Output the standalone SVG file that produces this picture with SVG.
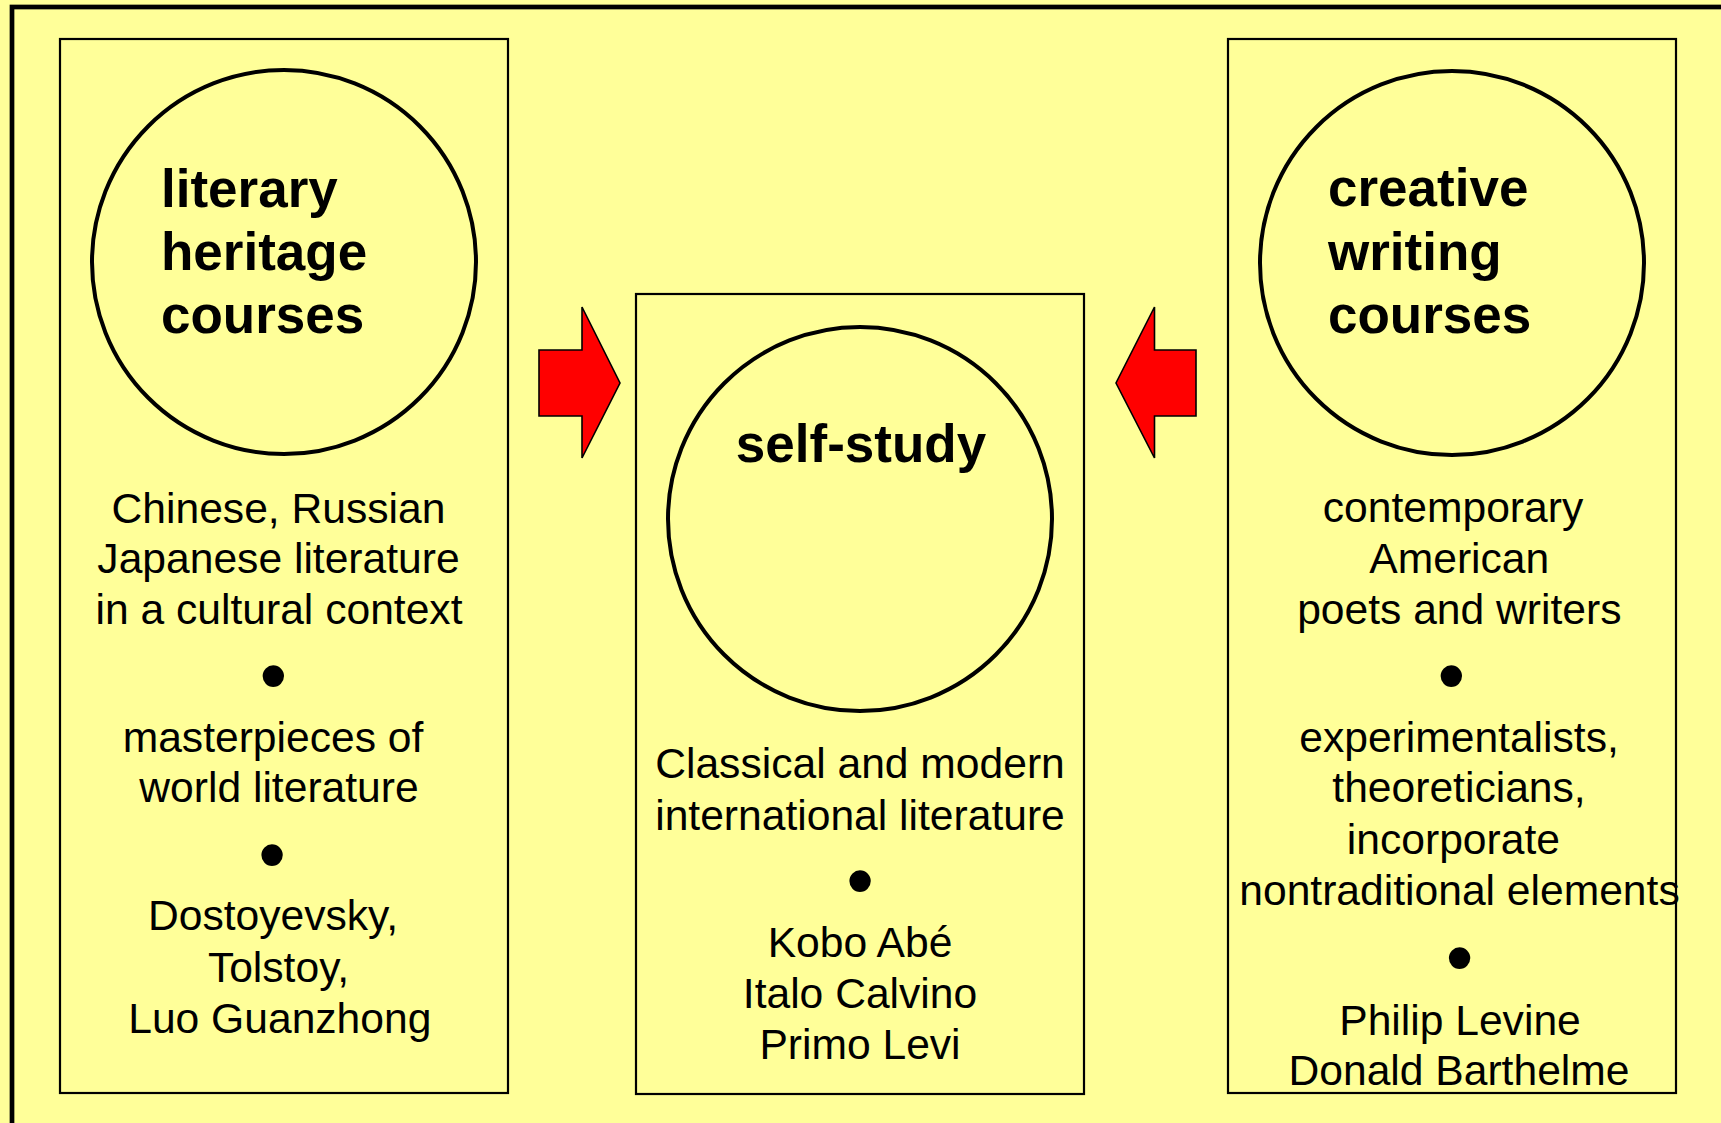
<svg xmlns="http://www.w3.org/2000/svg" width="1721" height="1123" viewBox="0 0 1721 1123">
<defs>
<style>
.bg{fill:#FFFF99}
.frame{fill:none;stroke:#000;stroke-width:4.7}
.box{fill:#FFFF99;stroke:#000;stroke-width:2.2}
.circ{fill:#FFFF99;stroke:#000;stroke-width:4}
.arrow{fill:#FF0000;stroke:#000;stroke-width:1.6;stroke-linejoin:miter}
.title{font-family:"Liberation Sans",Arial,sans-serif;font-weight:bold;font-size:53px;fill:#000}
.body{font-family:"Liberation Sans",Arial,sans-serif;font-size:42.6px;fill:#000;text-anchor:middle}
.bul{font-family:"Liberation Sans",Arial,sans-serif;font-size:79px;fill:#000;text-anchor:middle}
</style>
</defs>
<rect class="bg" x="0" y="0" width="1721" height="1123"/>
<rect class="frame" x="12" y="7" width="1800" height="1300"/>

<g id="connectors">
<polygon class="arrow" points="539,350 582,350 582,307 620,383 582,458 582,416 539,416"/>
<polygon class="arrow" points="1196,350 1154.5,350 1154.5,307 1116,383 1154.5,458 1154.5,416 1196,416"/>
</g>

<g id="literary-heritage">
<rect class="box" x="60" y="39" width="448" height="1054"/>
<circle class="circ" cx="284" cy="262" r="192"/>
<text class="title" x="161" y="207">literary</text>
<text class="title" x="161" y="270">heritage</text>
<text class="title" x="161" y="333">courses</text>
<text class="body" x="278.5" y="523">Chinese, Russian</text>
<text class="body" x="278.5" y="573">Japanese literature</text>
<text class="body" x="279" y="624">in a cultural context</text>
<text class="bul" x="273.3" y="703">•</text>
<text class="body" x="273" y="752">masterpieces of</text>
<text class="body" x="279" y="802">world literature</text>
<text class="bul" x="272" y="882">•</text>
<text class="body" x="273" y="930">Dostoyevsky,</text>
<text class="body" x="278.5" y="982">Tolstoy,</text>
<text class="body" x="279.8" y="1033">Luo Guanzhong</text>
</g>

<g id="self-study">
<rect class="box" x="636" y="294" width="448" height="800"/>
<circle class="circ" cx="860" cy="519" r="192"/>
<text class="title" x="861" y="462" text-anchor="middle">self-study</text>
<text class="body" x="860" y="778">Classical and modern</text>
<text class="body" x="860" y="830">international literature</text>
<text class="bul" x="860" y="908">•</text>
<text class="body" x="860" y="957">Kobo Abé</text>
<text class="body" x="860" y="1008">Italo Calvino</text>
<text class="body" x="860" y="1059">Primo Levi</text>
</g>

<g id="creative-writing">
<rect class="box" x="1228" y="39" width="448" height="1054"/>
<circle class="circ" cx="1452" cy="263" r="192"/>
<text class="title" x="1328" y="206">creative</text>
<text class="title" x="1328" y="270">writing</text>
<text class="title" x="1328" y="333">courses</text>
<text class="body" x="1453" y="522">contemporary</text>
<text class="body" x="1459.3" y="573">American</text>
<text class="body" x="1459.3" y="624">poets and writers</text>
<text class="bul" x="1451.3" y="703">•</text>
<text class="body" x="1459" y="752">experimentalists,</text>
<text class="body" x="1459" y="802">theoreticians,</text>
<text class="body" x="1453.4" y="854">incorporate</text>
<text class="body" x="1459.5" y="905">nontraditional elements</text>
<text class="bul" x="1459.5" y="985">•</text>
<text class="body" x="1460" y="1035">Philip Levine</text>
<text class="body" x="1459" y="1085">Donald Barthelme</text>
</g>
</svg>
